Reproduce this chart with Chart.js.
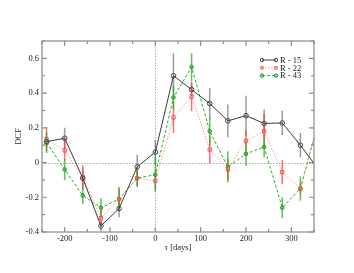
<!DOCTYPE html>
<html>
<head>
<meta charset="utf-8">
<script src="https://cdn.jsdelivr.net/npm/chart.js@4/dist/chart.umd.min.js"></script>
<style>
  html, body { margin: 0; padding: 0; background: #fff; }
  #wrap { width: 354px; height: 273px; }
</style>
</head>
<body>
<div id="wrap"><canvas id="chart" width="354" height="273"></canvas></div>
<script>
// lags in days
const lags = [-240, -200, -160, -120, -80, -40, 0, 40, 80, 120, 160, 200, 240, 280, 320, 360];

const r15 = [0.12, 0.14, -0.09, -0.365, -0.265, -0.025, 0.06, 0.50, 0.42, 0.34, 0.24, 0.27, 0.225, 0.228, 0.10, -0.04];
const r15Err = [0.03, 0.06, 0.05, 0.03, 0.05, 0.07, 0.07, 0.13, 0.04, 0.09, 0.095, 0.115, 0.08, 0.07, 0.07, 0.05];

const r22 = [0.135, 0.07, -0.085, -0.32, -0.21, -0.09, -0.105, 0.26, 0.38, 0.075, -0.04, 0.125, 0.18, -0.055, -0.15, 0.24];
const r22Err = [0.07, 0.06, 0.07, 0.05, 0.07, 0.05, 0.05, 0.09, 0.085, 0.08, 0.06, 0.06, 0.1, 0.07, 0.03, 0.05];

const r43 = [0.115, -0.04, -0.19, -0.26, -0.21, -0.09, -0.07, 0.375, 0.55, 0.18, -0.025, 0.05, 0.09, -0.26, -0.15, 0.24];
const r43Err = [0.06, 0.06, 0.05, 0.055, 0.06, 0.05, 0.1, 0.07, 0.08, 0.08, 0.09, 0.07, 0.06, 0.06, 0.07, 0.05];

const seriesNames = ["R - 15", "R - 22", "R - 43"];

const xMin = -250, xMax = 350;
const yMin = -0.4, yMax = 0.7;

const FONT = "'Liberation Serif', 'DejaVu Serif', serif";
const errs = [r15Err, r22Err, r43Err];
const barColors = ["rgba(90,90,90,0.6)", "rgba(255,60,60,0.75)", "rgba(40,170,40,0.75)"];

function pts(arr) {
  return lags.map((x, i) => ({ x: x, y: arr[i] }));
}

// zero lines, error bars, frame with inward ticks, legend
const decor = {
  id: "decor",
  beforeDatasetsDraw(chart) {
    const ctx = chart.ctx, a = chart.chartArea;
    const xs = chart.scales.x, ys = chart.scales.y;
    ctx.save();
    ctx.beginPath();
    ctx.rect(a.left, a.top, a.right - a.left, a.bottom - a.top);
    ctx.clip();

    ctx.strokeStyle = "#aaa";
    ctx.lineWidth = 1;
    ctx.setLineDash([1.5, 1.5]);
    ctx.beginPath();
    const x0 = Math.round(xs.getPixelForValue(0)) + 0.5;
    const y0 = Math.round(ys.getPixelForValue(0)) + 0.5;
    ctx.moveTo(x0, a.top); ctx.lineTo(x0, a.bottom);
    ctx.moveTo(a.left, y0); ctx.lineTo(a.right, y0);
    ctx.stroke();
    ctx.setLineDash([]);

    chart.data.datasets.forEach((ds, k) => {
      ctx.strokeStyle = barColors[k];
      ctx.lineWidth = 1.5;
      ctx.beginPath();
      ds.data.forEach((p, j) => {
        const px = xs.getPixelForValue(p.x);
        ctx.moveTo(px, ys.getPixelForValue(p.y + errs[k][j]));
        ctx.lineTo(px, ys.getPixelForValue(p.y - errs[k][j]));
      });
      ctx.stroke();
    });
    ctx.restore();
  },
  afterDraw(chart) {
    const ctx = chart.ctx, a = chart.chartArea;
    const xs = chart.scales.x, ys = chart.scales.y;
    ctx.save();
    ctx.strokeStyle = "#8a8a8a";
    ctx.lineWidth = 1.2;
    ctx.strokeRect(a.left, a.top, a.right - a.left, a.bottom - a.top);

    ctx.beginPath();
    xs.ticks.forEach(t => {
      const px = xs.getPixelForValue(t.value);
      const len = Math.round(t.value) % 100 === 0 ? 5 : 3;
      ctx.moveTo(px, a.bottom); ctx.lineTo(px, a.bottom - len);
      ctx.moveTo(px, a.top); ctx.lineTo(px, a.top + len);
    });
    ys.ticks.forEach(t => {
      const py = ys.getPixelForValue(t.value);
      const len = Math.round(t.value * 10) % 2 === 0 ? 5 : 3;
      ctx.moveTo(a.left, py); ctx.lineTo(a.left + len, py);
      ctx.moveTo(a.right, py); ctx.lineTo(a.right - len, py);
    });
    ctx.stroke();

    // legend
    const lx = a.right - 52, ly = a.top + 19;
    ctx.font = "8.5px " + FONT;
    ctx.textBaseline = "middle";
    chart.data.datasets.forEach((ds, k) => {
      const y = ly + k * 7.8;
      ctx.strokeStyle = ds.borderColor;
      ctx.lineWidth = 1;
      ctx.setLineDash(ds.borderDash || []);
      ctx.beginPath();
      ctx.moveTo(lx, y); ctx.lineTo(lx + 14, y);
      ctx.stroke();
      ctx.setLineDash([]);
      [lx, lx + 14].forEach(mx => {
        ctx.fillStyle = ds.pointBackgroundColor;
        ctx.strokeStyle = ds.pointBorderColor;
        ctx.lineWidth = 1;
        Chart.helpers.drawPoint(ctx, {
          pointStyle: ds.pointStyle, radius: 1.7, rotation: 0, borderWidth: 1
        }, mx, y);
      });
      ctx.fillStyle = "#222";
      ctx.fillText(seriesNames[k], lx + 18, y + 0.5);
    });
    ctx.restore();
  }
};

const datasets = [
  {
    label: seriesNames[0], data: pts(r15),
    borderColor: "#3a3a3a", borderWidth: 1,
    pointStyle: "circle", pointRadius: 2.3,
    pointBackgroundColor: "rgba(255,255,255,0)", pointBorderColor: "#444", pointBorderWidth: 1
  },
  {
    label: seriesNames[1], data: pts(r22),
    borderColor: "#ff9a9a", borderWidth: 1, borderDash: [1.5, 1.5],
    pointStyle: "rect", pointRadius: 2.3,
    pointBackgroundColor: "rgba(255,255,255,0)", pointBorderColor: "#ff5050", pointBorderWidth: 1
  },
  {
    label: seriesNames[2], data: pts(r43),
    borderColor: "#2faa2f", borderWidth: 1, borderDash: [3, 2],
    pointStyle: "circle", pointRadius: 1.8,
    pointBackgroundColor: "rgba(60,180,60,0.5)", pointBorderColor: "#1f9a1f", pointBorderWidth: 1
  }
];

new Chart(document.getElementById("chart"), {
  type: "scatter",
  data: { datasets: datasets.map(d => Object.assign({ showLine: true, clip: 0, tension: 0 }, d)) },
  options: {
    responsive: false,
    animation: false,
    layout: { padding: { left: 0, right: 40, top: 41, bottom: 0 } },
    plugins: { legend: { display: false }, tooltip: { enabled: false } },
    scales: {
      x: {
        type: "linear", min: xMin, max: xMax,
        afterFit: s => { s.height = 41; },
        grid: { display: false, drawTicks: false },
        border: { display: false },
        ticks: {
          stepSize: 50, padding: 2, maxRotation: 0, autoSkip: false,
          color: "#222", font: { family: FONT, size: 8.5 },
          callback: v => (Math.round(v) % 100 === 0 ? String(Math.round(v)) : "")
        },
        title: {
          display: true, text: "τ [days]", color: "#222",
          font: { family: FONT, size: 8.5 }, padding: { top: 0, bottom: 20 }
        }
      },
      y: {
        type: "linear", min: yMin, max: yMax,
        afterFit: s => { s.width = 42; },
        grid: { display: false, drawTicks: false },
        border: { display: false },
        ticks: {
          stepSize: 0.1, padding: 3, autoSkip: false,
          color: "#222", font: { family: FONT, size: 8.5 },
          callback: v => {
            const n = Math.round(v * 10);
            if (n % 2 !== 0 || n === 7) return "";
            return n === 0 ? "0" : (n / 10).toFixed(1);
          }
        },
        title: {
          display: true, text: "DCF", color: "#222",
          font: { family: FONT, size: 8.5 }, padding: { top: 14, bottom: 0 }
        }
      }
    }
  },
  plugins: [decor]
});
</script>
</body>
</html>
